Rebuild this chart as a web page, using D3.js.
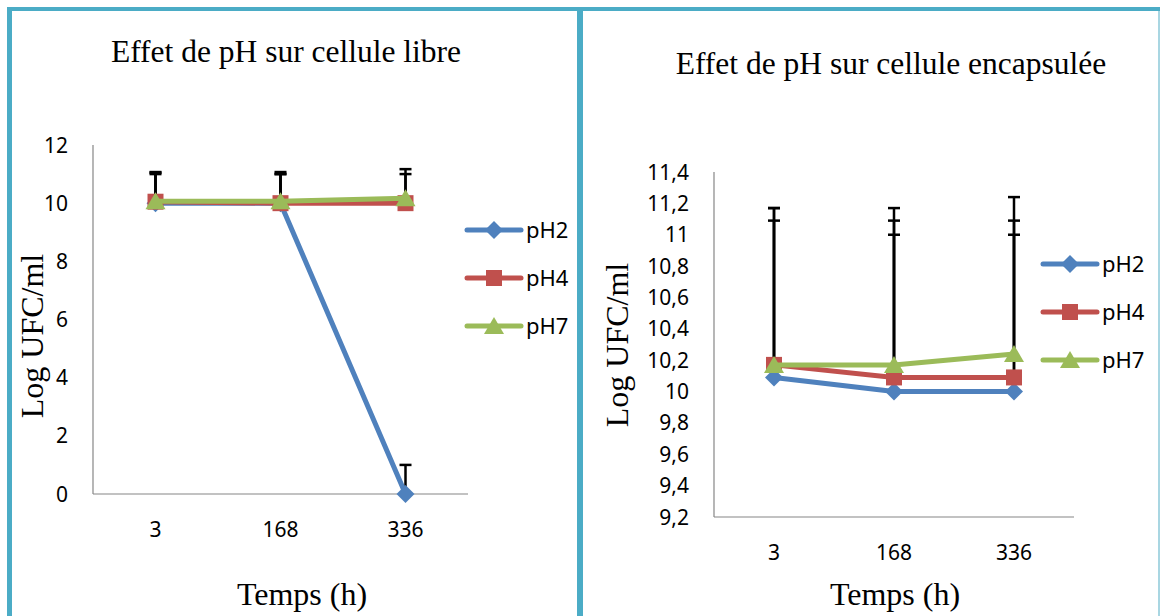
<!DOCTYPE html>
<html>
<head>
<meta charset="utf-8">
<script src="https://cdn.jsdelivr.net/npm/d3@7"></script>
<style>
  body { margin: 0; background: #fff; }
  svg { display: block; }
</style>
</head>
<body>
<div id="chart"></div>
<script>
// data
var categories = ["3", "168", "336"];
var seriesNames = ["pH2", "pH4", "pH7"];
var seriesColors = ["#4f81bd", "#c0504d", "#9bbb59"];
var seriesMarkers = ["diamond", "square", "triangle"];

var librePH2 = [10.0, 10.0, 0.0];
var librePH4 = [10.05, 10.0, 10.0];
var librePH7 = [10.07, 10.07, 10.17];
var libreErr = [1, 1, 1];
var libreTicks = [0, 2, 4, 6, 8, 10, 12];

var encapPH2 = [10.09, 10.0, 10.0];
var encapPH4 = [10.17, 10.09, 10.09];
var encapPH7 = [10.17, 10.17, 10.24];
var encapErr = [1, 1, 1];
var encapTicks = [9.2, 9.4, 9.6, 9.8, 10, 10.2, 10.4, 10.6, 10.8, 11, 11.2, 11.4];

var W = 1160, H = 616;
var serif = "'Liberation Serif', 'Times New Roman', serif";
var sans = "'Noto Sans', 'Open Sans', sans-serif";
var frame = "#4bacc6";

var svg = d3.select("#chart").append("svg")
  .attr("width", W)
  .attr("height", H);

svg.append("rect").attr("width", W).attr("height", H).attr("fill", "#fff");

// panel frames
svg.append("rect").attr("x", 7).attr("y", 7).attr("width", W - 7).attr("height", 4).attr("fill", frame);
svg.append("rect").attr("x", 7).attr("y", 7).attr("width", 5).attr("height", H - 7).attr("fill", frame);
svg.append("rect").attr("x", 577).attr("y", 7).attr("width", 6).attr("height", H - 7).attr("fill", frame);
svg.append("rect").attr("x", 1158).attr("y", 11).attr("width", 2).attr("height", H - 11).attr("fill", "#a9d6e2");

var fr = d3.formatLocale({decimal: ",", thousands: " ", grouping: [3], currency: ["", " €"]});
var fmt = fr.format("~f");

function markerPath(type) {
  if (type == "diamond") return "M0,-9L9,0L0,9L-9,0Z";
  if (type == "square") return "M-8,-8H8V8H-8Z";
  return "M0,-9L10,8H-10Z";
}

function drawPanel(p) {
  var g = svg.append("g");

  var x = d3.scaleBand()
    .domain(categories)
    .range([p.left, p.right]);

  var y = d3.scaleLinear()
    .domain(p.domain)
    .range([p.bottom, p.top]);

  // axes lines
  g.append("line")
    .attr("x1", p.left).attr("x2", p.left)
    .attr("y1", p.top).attr("y2", p.bottom)
    .attr("stroke", "#868686").attr("stroke-width", 1.2);
  g.append("line")
    .attr("x1", p.left).attr("x2", p.right)
    .attr("y1", p.bottom).attr("y2", p.bottom)
    .attr("stroke", "#868686").attr("stroke-width", 1.2);

  // y tick labels
  g.selectAll(".ytick")
    .data(p.ticks).enter()
    .append("text")
      .attr("x", p.left - 25)
      .attr("y", function(d) { return y(d); })
      .attr("dy", "0.36em")
      .attr("text-anchor", "end")
      .style("font-family", sans)
      .style("font-size", "21px")
      .text(function(d) { return fmt(d); });

  // category labels
  g.selectAll(".xtick")
    .data(categories).enter()
    .append("text")
      .attr("x", function(d) { return x(d) + x.bandwidth() / 2; })
      .attr("y", p.bottom + 43)
      .attr("text-anchor", "middle")
      .style("font-family", sans)
      .style("font-size", "21px")
      .text(function(d) { return d; });

  var cx = function(i) { return x(categories[i]) + x.bandwidth() / 2; };

  // error bars (plus only)
  p.series.forEach(function(s) {
    s.values.forEach(function(v, i) {
      var top = y(v + p.err[i]);
      g.append("line")
        .attr("x1", cx(i)).attr("x2", cx(i))
        .attr("y1", y(v)).attr("y2", top)
        .attr("stroke", "#000").attr("stroke-width", 2.5);
      g.append("line")
        .attr("x1", cx(i) - 6).attr("x2", cx(i) + 6)
        .attr("y1", top).attr("y2", top)
        .attr("stroke", "#000").attr("stroke-width", 2.5);
    });
  });

  var line = d3.line()
    .x(function(d, i) { return cx(i); })
    .y(function(d) { return y(d); });

  p.series.forEach(function(s, k) {
    g.append("path")
      .attr("d", line(s.values))
      .attr("fill", "none")
      .attr("stroke", seriesColors[k])
      .attr("stroke-width", 5)
      .attr("stroke-linejoin", "round")
      .attr("stroke-linecap", "round");
    g.selectAll(".m" + k)
      .data(s.values).enter()
      .append("path")
        .attr("d", markerPath(seriesMarkers[k]))
        .attr("transform", function(d, i) { return "translate(" + cx(i) + "," + y(d) + ")"; })
        .attr("fill", seriesColors[k]);
  });

  // legend
  seriesNames.forEach(function(name, k) {
    var ly = p.legendY + k * 48;
    g.append("line")
      .attr("x1", p.legendX).attr("x2", p.legendX + 54)
      .attr("y1", ly).attr("y2", ly)
      .attr("stroke", seriesColors[k]).attr("stroke-width", 5)
      .attr("stroke-linecap", "round");
    g.append("path")
      .attr("d", markerPath(seriesMarkers[k]))
      .attr("transform", "translate(" + (p.legendX + 27) + "," + ly + ")")
      .attr("fill", seriesColors[k]);
    g.append("text")
      .attr("x", p.legendX + 59)
      .attr("y", ly)
      .attr("dy", "0.36em")
      .style("font-family", sans)
      .style("font-size", "22px")
      .text(name);
  });

  // titles
  g.append("text")
    .attr("x", p.titleX).attr("y", p.titleY)
    .attr("text-anchor", "middle")
    .style("font-family", serif)
    .style("font-size", "31.5px")
    .text(p.title);

  g.append("text")
    .attr("x", p.xlabX).attr("y", 605)
    .attr("text-anchor", "middle")
    .style("font-family", serif)
    .style("font-size", "32px")
    .text("Temps (h)");

  g.append("text")
    .attr("transform", "translate(" + p.ylabX + "," + p.ylabY + ") rotate(-90)")
    .attr("text-anchor", "middle")
    .style("font-family", serif)
    .style("font-size", "32px")
    .text("Log UFC/ml");
}

drawPanel({
  title: "Effet de pH sur cellule libre",
  titleX: 286, titleY: 62,
  left: 93, right: 468, top: 145, bottom: 494,
  domain: [0, 12],
  ticks: libreTicks,
  err: libreErr,
  series: [{values: librePH2}, {values: librePH4}, {values: librePH7}],
  legendX: 467, legendY: 230,
  xlabX: 302,
  ylabX: 43, ylabY: 336
});

drawPanel({
  title: "Effet de pH sur cellule encapsulée",
  titleX: 891, titleY: 74,
  left: 714, right: 1074, top: 172, bottom: 517,
  domain: [9.2, 11.4],
  ticks: encapTicks,
  err: encapErr,
  series: [{values: encapPH2}, {values: encapPH4}, {values: encapPH7}],
  legendX: 1043, legendY: 264,
  xlabX: 895,
  ylabX: 628, ylabY: 345
});
</script>
</body>
</html>
